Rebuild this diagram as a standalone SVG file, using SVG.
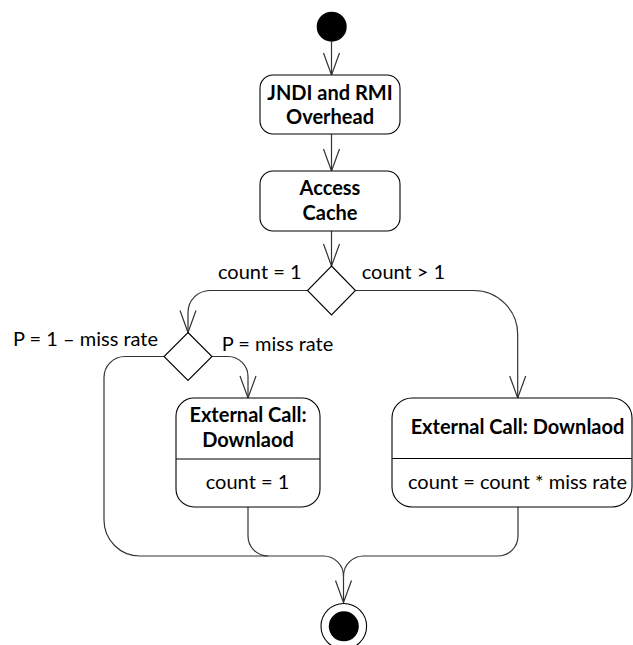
<svg xmlns="http://www.w3.org/2000/svg" width="633" height="645" viewBox="0 0 633 645">
<style>
.box{fill:#fff;stroke:#000;stroke-width:1.1}
.dia{fill:#fff;stroke:#000;stroke-width:1.1}
.con{fill:none;stroke:#333;stroke-width:1.2}
text{font-family:Lato,"Liberation Sans",sans-serif;font-size:20px;fill:#000}
.b{font-weight:bold;text-anchor:middle}
.n{text-anchor:middle}
</style>
<defs>
<marker id="arr" markerUnits="userSpaceOnUse" viewBox="-24 -10 26 20" markerWidth="26" markerHeight="20" refX="0" refY="0" orient="auto" overflow="visible">
<path d="M-22,-8 L0,0 L-22,8" fill="none" stroke="#333" stroke-width="1.2"/>
</marker>
</defs>
<rect width="633" height="645" fill="#fff"/>
<g id="connectors">
<path class="con" d="M331.5,41.5 V75" marker-end="url(#arr)"/>
<path class="con" d="M331.5,134 V171" marker-end="url(#arr)"/>
<path class="con" d="M331.5,231 V266" marker-end="url(#arr)"/>
<path class="con" d="M307.5,290.5 H210 A22,22 0 0 0 188,312.5 V332.5" marker-end="url(#arr)"/>
<path class="con" d="M355.5,290.5 H473.7 A44,44 0 0 1 517.7,334.5 V398" marker-end="url(#arr)"/>
<path class="con" d="M212,356.5 H228 A20,20 0 0 1 248,376.5 V398" marker-end="url(#arr)"/>
<path class="con" d="M164,356.5 H125 A21,21 0 0 0 104,377.5 V520 A36,36 0 0 0 140,556 H323.5 A20,20 0 0 1 343.5,576 V602.5" marker-end="url(#arr)"/>
<path class="con" d="M248,507 V536 A20,20 0 0 0 268,556"/>
<path class="con" d="M518,507 V536 A20,20 0 0 1 498,556 H363.5 A20,20 0 0 0 343.5,576"/>
</g>
<g id="start"><circle cx="331.7" cy="26.7" r="15" fill="#000"/></g>
<g id="jndi">
<rect class="box" x="260" y="75" width="140" height="59" rx="13"/>
<text class="b" x="330" y="100">JNDI and RMI</text>
<text class="b" x="330" y="124">Overhead</text>
</g>
<g id="access">
<rect class="box" x="260" y="171" width="140" height="60" rx="13"/>
<text class="b" x="330" y="194.5">Access</text>
<text class="b" x="330" y="219.5">Cache</text>
</g>
<g id="decision1">
<polygon class="dia" points="331.5,266 355.5,290.5 331.5,315 307.5,290.5"/>
<text x="218" y="279.3">count = 1</text>
<text x="361.7" y="279.3">count &gt; 1</text>
</g>
<g id="decision2">
<polygon class="dia" points="188,332.5 212,356.5 188,380.5 164,356.5"/>
<text x="13" y="346">P = 1 – miss rate</text>
<text x="221.7" y="351">P = miss rate</text>
</g>
<g id="download1">
<rect class="box" x="176" y="398" width="144" height="109" rx="18"/>
<line x1="176" y1="459" x2="320" y2="459" stroke="#000" stroke-width="1.1"/>
<text class="b" x="248" y="422.3">External Call:</text>
<text class="b" x="248" y="447.3">Downlaod</text>
<text class="n" x="247.5" y="489.3">count = 1</text>
</g>
<g id="download2">
<rect class="box" x="392" y="398" width="240" height="109" rx="20"/>
<line x1="392" y1="458.5" x2="632" y2="458.5" stroke="#000" stroke-width="1.1"/>
<text class="b" x="517.5" y="434.3">External Call: Downlaod</text>
<text class="n" x="517.5" y="489.3">count = count * miss rate</text>
</g>
<g id="final">
<circle cx="343.8" cy="626.3" r="22.8" fill="#fff" stroke="#000" stroke-width="1.1"/>
<circle cx="343.8" cy="626.3" r="15" fill="#000"/>
</g>
</svg>
